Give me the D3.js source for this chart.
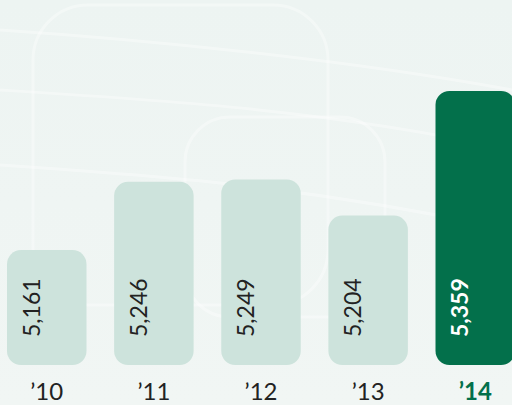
<!DOCTYPE html>
<html>
<head>
<meta charset="utf-8">
<script src="https://cdn.jsdelivr.net/npm/d3@7"></script>
<style>
  html, body { margin: 0; padding: 0; overflow: hidden; }
  svg { display: block; font-family: Lato, "Open Sans", sans-serif; }
</style>
</head>
<body>
<svg id="chart"></svg>
<script>
const years = ["’10", "’11", "’12", "’13", "’14"];
const values = [5161, 5246, 5249, 5204, 5359];
const labels = ["5,161", "5,246", "5,249", "5,204", "5,359"];

const width = 512, height = 405;
const base = 365; // bar bottom

const svg = d3.select("#chart").attr("width", width).attr("height", height);

// background
const defs = svg.append("defs");
const grad = defs.append("linearGradient").attr("id", "bg")
    .attr("x1", 0).attr("y1", 0).attr("x2", 0).attr("y2", 1);
grad.append("stop").attr("offset", "0%").attr("stop-color", "#edf4f2");
grad.append("stop").attr("offset", "100%").attr("stop-color", "#f1f6f4");
svg.append("rect").attr("width", width).attr("height", height).attr("fill", "url(#bg)");

// faint decorative outlines
const deco = svg.append("g").attr("fill", "none").attr("stroke", "#ffffff")
    .attr("stroke-opacity", 0.35).attr("stroke-width", 3);
deco.append("rect").attr("x", 33).attr("y", 5).attr("width", 295).attr("height", 300).attr("rx", 55);
deco.append("rect").attr("x", 185).attr("y", 117).attr("width", 200).attr("height", 200).attr("rx", 45);
deco.append("path").attr("d", "M0,30 C150,40 350,60 512,90");
deco.append("path").attr("d", "M0,90 C160,100 330,110 512,150");
deco.append("path").attr("d", "M0,165 C150,175 300,185 512,230");

const x = d3.scaleBand()
    .domain(years)
    .range([7, 515])
    .paddingInner(0.258)
    .paddingOuter(0);

const y = d3.scaleLinear()
    .domain([5018, 5359])
    .range([base, 91]);

const data = years.map((yr, i) => ({year: yr, value: values[i], label: labels[i], last: i === years.length - 1}));

svg.append("g").selectAll("rect")
    .data(data)
    .join("rect")
    .attr("x", d => x(d.year))
    .attr("y", d => y(d.value))
    .attr("width", x.bandwidth())
    .attr("height", d => base - y(d.value))
    .attr("rx", 14)
    .attr("fill", d => d.last ? "#03704b" : "#cde3dc");

// value labels, rotated
svg.append("g").selectAll("text")
    .data(data)
    .join("text")
    .attr("transform", d => `translate(${x(d.year) + x.bandwidth() / 2 - 7},${base - 28}) rotate(-90)`)
    .attr("text-anchor", "start")
    .attr("font-size", 23)
    .attr("font-weight", d => d.last ? "bold" : "normal")
    .attr("fill", d => d.last ? "#ffffff" : "#222222")
    .text(d => d.label);

// year labels
svg.append("g").selectAll("text")
    .data(data)
    .join("text")
    .attr("x", d => x(d.year) + x.bandwidth() / 2)
    .attr("y", 400)
    .attr("text-anchor", "middle")
    .attr("font-size", 24)
    .attr("font-weight", d => d.last ? "bold" : "normal")
    .attr("fill", d => d.last ? "#03704b" : "#222222")
    .text(d => d.year);
</script>
</body>
</html>
